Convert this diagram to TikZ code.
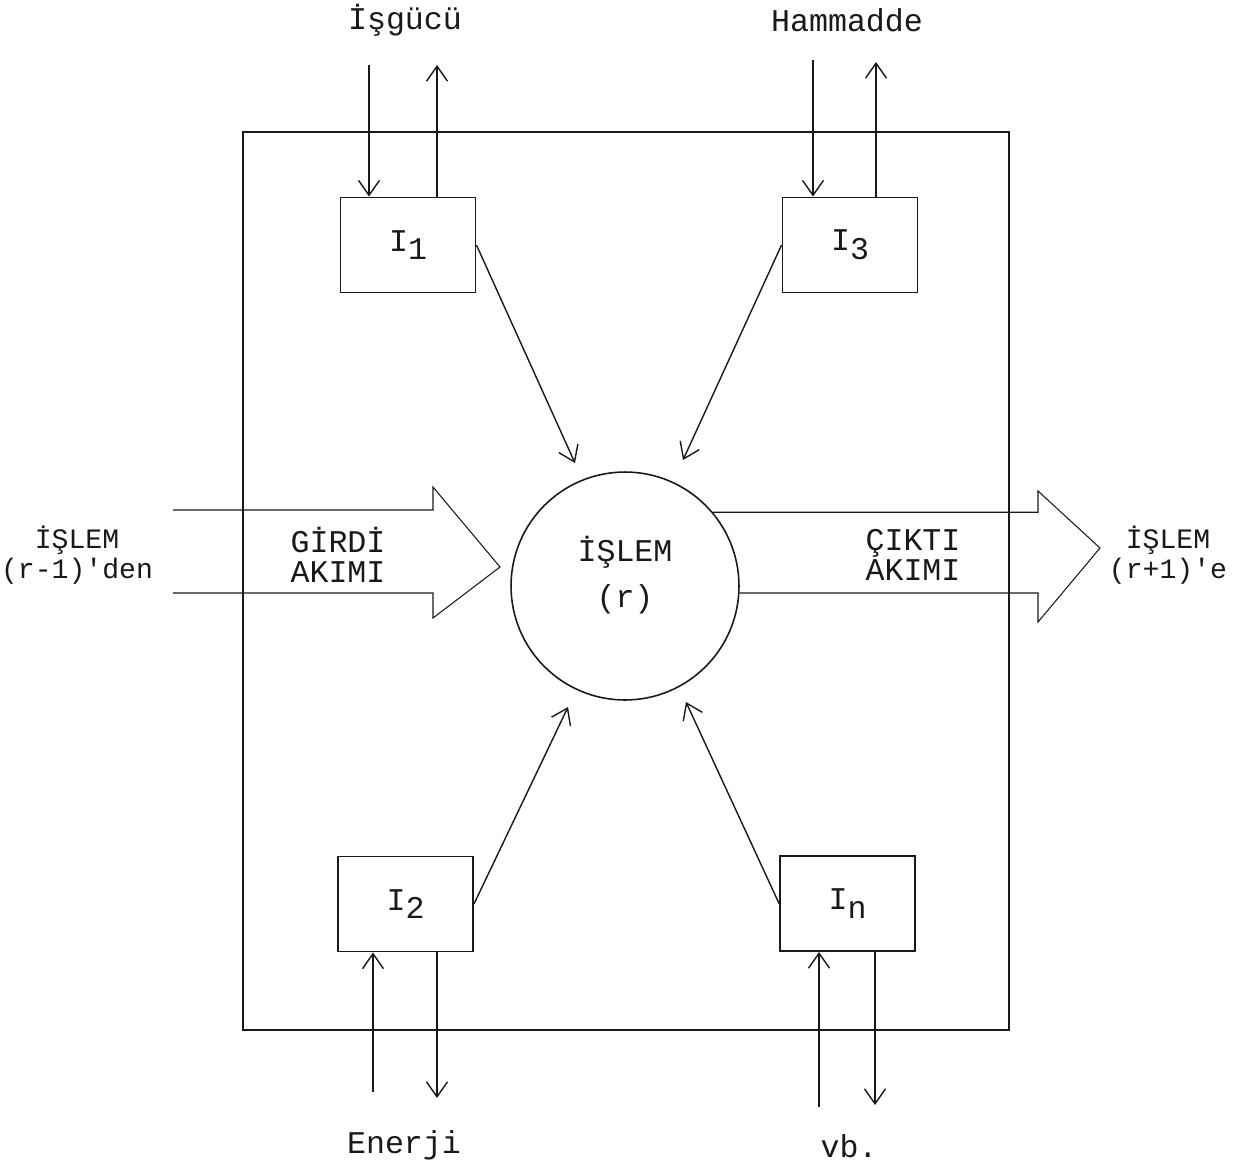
\documentclass[tikz,border=0pt]{standalone}
\usepackage{fontspec}
\setmonofont{Liberation Mono}
\usepackage{tikz}
\usetikzlibrary{arrows.meta,positioning}
\definecolor{ink}{RGB}{25,25,25}
\newcommand{\twfont}{\fontsize{18pt}{17pt}\selectfont\ttfamily}
\newcommand{\sidefont}{\fontsize{16pt}{17pt}\selectfont\ttfamily}
\newcommand{\sub}[1]{\raisebox{-5pt}{#1}}

\begin{document}
\begin{tikzpicture}[
  x=0.02cm, y=-0.02cm,
  every node/.style={font=\twfont, text=ink},
  ibox/.style={rectangle, draw=ink, line width=1.1pt, minimum width=2.7cm,
    minimum height=1.9cm, inner sep=0pt},
  proc/.style={circle, draw=ink, line width=0.9pt, minimum size=4.56cm,
    inner sep=0pt},
  lbl/.style={align=center, inner sep=0pt},
  frame/.style={draw=ink, line width=1.2pt},
  flow/.style={draw=ink, line width=0.6pt},
  arr/.style={-{Straight Barb[length=3mm,width=4.2mm]}, line width=0.8pt, ink}]

\useasboundingbox (0,0) rectangle (1243,1167);

% system boundary
\draw[frame] (243,132) rectangle (1009,1030);

% process and the four inputs
\node[proc] (C) at (625,586) {};
\node[lbl] (Ctext) at ([yshift=0.22cm]C.center) {İŞLEM\\[9pt](r)};
\node[ibox] (I1) at (408,245) {I\sub{1}};
\node[ibox] (I3) at (850,245) {I\sub{3}};
\node[ibox] (I2) at (405.5,904) {I\sub{2}};
\node[ibox] (In) at (847.5,903.5) {I\sub{n}};

% outside labels
\node[lbl] (lab1) at (405,20) {İşgücü};
\node[lbl] (lab3) at (847,20) {Hammadde};
\node[lbl] (lab2) at (404,1145) {Enerji};
\node[lbl] (labn) at (849,1146) {vb.};
\node[lbl, font=\sidefont] (prev) at (77,555) {İŞLEM\\(r-1)'den};
\node[lbl, font=\sidefont] (next) at (1168,555) {İŞLEM\\(r+1)'e};
\node[lbl] (inflow) at (338,555) {GİRDİ\\AKIMI};
\node[lbl] (outflow) at (913,555) {ÇIKTI\\AKIMI};

% free ends of the resource arrows
\coordinate (i1a) at (369,65);
\coordinate (i1b) at (437,65);
\coordinate (i3a) at (813,60);
\coordinate (i3b) at (876,62);
\coordinate (i2a) at (373,1092);
\coordinate (i2b) at (437,1098);
\coordinate (ina) at (819,1107);
\coordinate (inb) at (875,1105);
\coordinate (t1) at (575,463);
\coordinate (t3) at (683,460);
\coordinate (t2) at (568,707);
\coordinate (tn) at (686,702);

\draw[arr] (i1a) -- (i1a |- I1.north);
\draw[arr] (i1b |- I1.north) -- (i1b);
\draw[arr] (i3a) -- (i3a |- I3.north);
\draw[arr] (i3b |- I3.north) -- (i3b);
\draw[arr] (i2a) -- (i2a |- I2.south);
\draw[arr] (i2b |- I2.south) -- (i2b);
\draw[arr] (ina) -- (ina |- In.south);
\draw[arr] (inb |- In.south) -- (inb);

\draw[arr] (I1.east) -- (t1);
\draw[arr] (I3.west) -- (t3);
\draw[arr] (I2.east) -- (t2);
\draw[arr] (In.west) -- (tn);

% input and output streams
\coordinate (lhead) at (433,548);
\coordinate (rhead) at (1038,548);
\draw[flow] (173,510) -- (173,510 -| lhead) -- (433,487) -- (500,567)
  -- (433,618) -- (433,593) -- (173,593);
\draw[flow] (C.40) -- (C.40 -| rhead) -- (1038,491) -- (1100,548)
  -- (1038,622) -- (1038,593) -- (C.-4 |- 0,593);
\end{tikzpicture}
\end{document}
